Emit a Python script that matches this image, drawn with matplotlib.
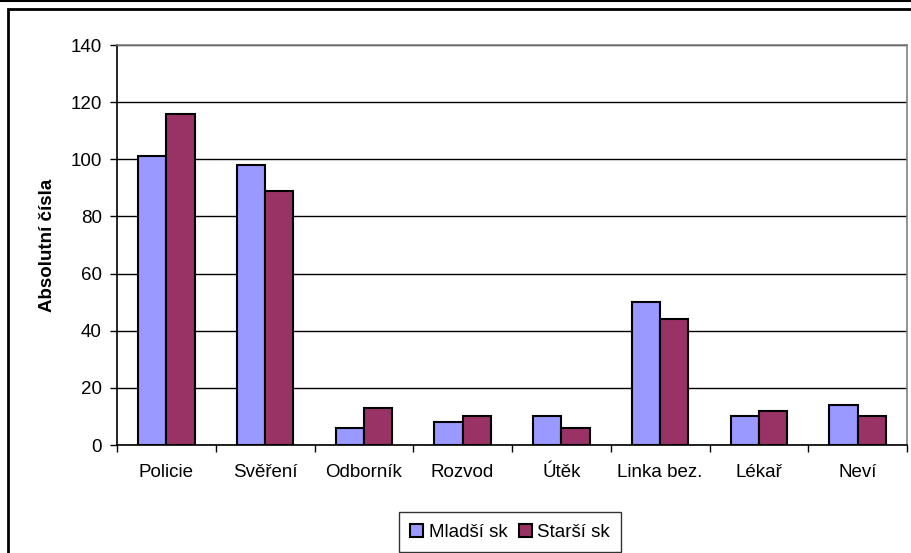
import numpy as np
import matplotlib.pyplot as plt
from matplotlib.patches import Rectangle
from matplotlib.lines import Line2D

plt.rcParams['font.family'] = ['Liberation Sans', 'DejaVu Sans']

# Data
categories = ["Policie", "Svěření", "Odborník", "Rozvod", "Útěk", "Linka bez.", "Lékař", "Neví"]
mladsi = [101, 98, 6, 8, 10, 50, 10, 14]
starsi = [116, 89, 13, 10, 6, 44, 12, 10]
series_names = ["Mladší sk", "Starší sk"]
yticks = [0, 20, 40, 60, 80, 100, 120, 140]

W, H = 911, 553
fig = plt.figure(figsize=(W / 100, H / 100), dpi=100)
ax = fig.add_axes([117 / W, (H - 445) / H, (907 - 117) / W, 400 / H])

x = np.arange(len(categories))
bw = 0.285
ax.bar(x - bw / 2, mladsi, bw, color="#9999FF", edgecolor="black", linewidth=1.5,
       label=series_names[0], zorder=3)
ax.bar(x + bw / 2, starsi, bw, color="#993366", edgecolor="black", linewidth=1.5,
       label=series_names[1], zorder=3)

ax.set_xlim(-0.5, len(categories) - 0.5)
ax.set_ylim(0, 140)
ax.set_yticks(yticks)
ax.set_xticks(x)
ax.set_xticklabels(categories)
ax.set_xticks(np.arange(len(categories) + 1) - 0.5, minor=True)
ax.tick_params(axis="x", which="major", length=0, pad=14, labelsize=13.5)
ax.tick_params(axis="x", which="minor", length=5, width=1, color="black", direction="out")
ax.tick_params(axis="y", length=5, width=1, color="black", direction="out", pad=6, labelsize=13.5)

ax.yaxis.grid(True, color="black", linewidth=1, zorder=0)
ax.set_axisbelow(True)

for s in ["top", "right"]:
    ax.spines[s].set_color("#808080")
    ax.spines[s].set_linewidth(1.2)
for s in ["left", "bottom"]:
    ax.spines[s].set_color("black")
    ax.spines[s].set_linewidth(1.2)

ax.set_ylabel("Absolutní čísla", fontsize=13.5, fontweight="bold", labelpad=10)

leg = fig.legend(loc="lower center", bbox_to_anchor=(510 / W, 0.0), ncol=2,
                 fontsize=13.5, frameon=True, fancybox=False, edgecolor="black",
                 handlelength=0.7, handleheight=0.7, handletextpad=0.3,
                 columnspacing=0.6, borderpad=0.6, borderaxespad=0.05)
leg.get_frame().set_linewidth(1)

# chart frame
fig.patches.append(Rectangle((8 / W, -0.1), 1.2, (H - 9) / H + 0.1, transform=fig.transFigure,
                             fill=False, edgecolor="black", linewidth=2))
fig.lines.append(Line2D([0, 1], [1 - 0.5 / H, 1 - 0.5 / H], transform=fig.transFigure,
                        color="black", linewidth=1.5))

fig.savefig("out.png", dpi=100)
